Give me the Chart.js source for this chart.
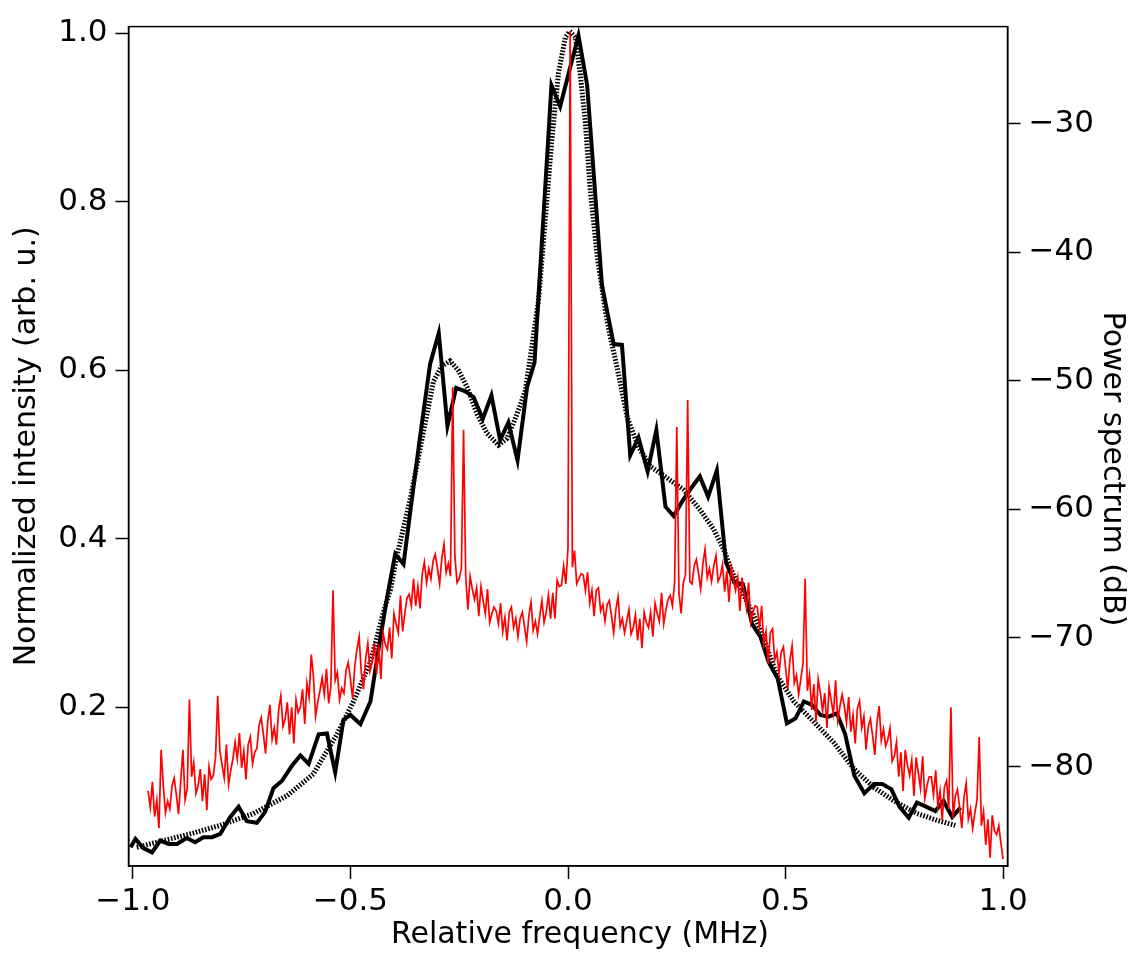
<!DOCTYPE html>
<html>
<head>
<meta charset="utf-8">
<script src="https://cdn.jsdelivr.net/npm/chart.js"></script>
<style>
  html, body { margin: 0; padding: 0; background: #fff; }
  #wrap { width: 1130px; height: 954px; }
</style>
</head>
<body>
<div id="wrap"><canvas id="myChart" width="1130" height="954"></canvas></div>
<script>
// tick labels
const xTicks = [-1.0, -0.5, 0.0, 0.5, 1.0];
const leftTicks = [0.2, 0.4, 0.6, 0.8, 1.0];
const rightTicks = [-80, -70, -60, -50, -40, -30];

// measured spectrum (normalized intensity), black solid
const solidX = [-1.005, -0.994, -0.976, -0.956, -0.937, -0.918, -0.899, -0.876, -0.857, -0.838,
    -0.818, -0.799, -0.776, -0.757, -0.738, -0.715, -0.696, -0.677, -0.657, -0.634,
    -0.615, -0.596, -0.573, -0.554, -0.535, -0.516, -0.500, -0.477, -0.454, -0.435,
    -0.416, -0.397, -0.378, -0.359, -0.340, -0.317, -0.297, -0.277, -0.257, -0.236,
    -0.217, -0.196, -0.176, -0.156, -0.137, -0.116, -0.094, -0.077, -0.038, -0.018,
    0.024, 0.044, 0.078, 0.105, 0.124, 0.143, 0.162, 0.183, 0.203, 0.224,
    0.243, 0.262, 0.283, 0.303, 0.322, 0.342, 0.363, 0.382, 0.402, 0.423,
    0.442, 0.461, 0.482, 0.503, 0.523, 0.542, 0.561, 0.580, 0.599, 0.618,
    0.637, 0.658, 0.681, 0.703, 0.722, 0.743, 0.762, 0.783, 0.802, 0.824,
    0.844, 0.863, 0.883, 0.902];
const solidY = [0.034, 0.044, 0.033, 0.028, 0.042, 0.038, 0.038, 0.045, 0.040, 0.046,
    0.046, 0.050, 0.070, 0.082, 0.065, 0.063, 0.076, 0.104, 0.113, 0.131,
    0.143, 0.133, 0.168, 0.169, 0.123, 0.185, 0.191, 0.180, 0.207, 0.270,
    0.330, 0.382, 0.370, 0.446, 0.521, 0.607, 0.644, 0.534, 0.579, 0.575,
    0.568, 0.542, 0.570, 0.517, 0.538, 0.493, 0.580, 0.609, 0.938, 0.913,
    0.997, 0.938, 0.701, 0.631, 0.630, 0.499, 0.520, 0.480, 0.529, 0.438,
    0.427, 0.444, 0.460, 0.474, 0.450, 0.481, 0.372, 0.348, 0.346, 0.299,
    0.284, 0.254, 0.234, 0.181, 0.187, 0.207, 0.203, 0.191, 0.189, 0.193,
    0.168, 0.119, 0.098, 0.109, 0.109, 0.103, 0.082, 0.069, 0.087, 0.082,
    0.077, 0.089, 0.070, 0.081];

// fit (normalized intensity), black dotted
const fitX = [-0.991, -0.914, -0.860, -0.799, -0.723, -0.646, -0.585, -0.531, -0.493, -0.454,
    -0.424, -0.408, -0.393, -0.363, -0.336, -0.309, -0.290, -0.271, -0.251, -0.232,
    -0.209, -0.186, -0.160, -0.140, -0.117, -0.098, -0.083, -0.068, -0.056, -0.037,
    -0.022, -0.006, 0.004, 0.017, 0.028, 0.040, 0.051, 0.067, 0.086, 0.097,
    0.113, 0.136, 0.162, 0.189, 0.228, 0.266, 0.304, 0.335, 0.358, 0.381,
    0.408, 0.442, 0.480, 0.519, 0.557, 0.611, 0.657, 0.703, 0.749, 0.802,
    0.848, 0.890];
const fitY = [0.034, 0.044, 0.051, 0.060, 0.074, 0.095, 0.121, 0.168, 0.207, 0.254,
    0.313, 0.340, 0.380, 0.446, 0.517, 0.587, 0.605, 0.611, 0.599, 0.580,
    0.548, 0.525, 0.511, 0.519, 0.548, 0.576, 0.628, 0.682, 0.756, 0.874,
    0.952, 0.995, 1.002, 0.995, 0.952, 0.893, 0.815, 0.736, 0.670, 0.640,
    0.603, 0.544, 0.509, 0.486, 0.472, 0.458, 0.434, 0.411, 0.387, 0.356,
    0.329, 0.293, 0.238, 0.207, 0.187, 0.158, 0.127, 0.105, 0.089, 0.074,
    0.066, 0.060];

// power spectrum (dB), red, sampled every 5 kHz from -0.965 MHz
const redStart = -0.965;
const redStep = 0.005;
const redDb = [
    -81.9, -83.2, -81.2, -83.9, -82.6, -84.8, -78.7, -81.5, -83.6, -82.7,
    -83.3, -81.5, -80.9, -82.2, -83.7, -81.2, -78.7, -82.6, -81.7, -74.8,
    -80.8, -79.7, -82.1, -81.5, -80.2, -82.7, -80.6, -83.4, -80.0, -81.0,
    -80.7, -79.3, -74.5, -78.8, -79.9, -80.9, -78.3, -81.4, -80.3, -79.4,
    -78.1, -79.4, -77.4, -80.1, -78.8, -81.0, -78.3, -77.7, -79.8, -78.9,
    -78.6, -76.8, -76.2, -77.5, -79.0, -76.5, -75.2, -77.9, -77.0, -78.3,
    -75.6, -74.5, -76.9, -76.3, -75.0, -77.5, -75.4, -78.2, -74.8, -75.8,
    -75.4, -74.0, -76.7, -73.5, -74.6, -71.3, -73.0, -76.1, -75.0, -74.1,
    -73.1, -74.4, -72.4, -75.1, -73.8, -66.3, -73.3, -72.7, -74.8, -73.9,
    -74.3, -72.5, -71.9, -73.2, -74.7, -72.2, -70.9, -69.9, -72.7, -74.0,
    -71.6, -70.4, -72.6, -71.9, -70.4, -72.8, -70.5, -73.2, -69.6, -70.5,
    -70.9, -69.2, -71.6, -68.1, -68.9, -69.6, -66.7, -69.5, -68.1, -66.9,
    -66.6, -67.5, -65.4, -67.5, -66.0, -67.7, -65.0, -64.1, -65.7, -64.6,
    -65.4, -64.0, -63.5, -64.6, -65.8, -63.8, -62.7, -64.9, -64.2, -65.2,
    -50.5, -63.6, -65.7, -65.4, -64.6, -53.8, -65.3, -67.8, -65.2, -66.2,
    -67.0, -66.1, -68.3, -66.0, -67.1, -68.1, -66.2, -68.8, -68.1, -67.6,
    -67.9, -68.9, -67.3, -69.5, -68.4, -70.2, -68.0, -67.6, -69.2, -68.5,
    -69.9, -68.5, -68.0, -69.1, -70.3, -68.3, -67.2, -69.4, -68.7, -69.7,
    -68.3, -67.1, -68.8, -68.0, -66.7, -68.5, -66.5, -68.5, -65.5, -66.0,
    -65.9, -64.4, -65.8, -63.0, -22.8, -64.5, -63.2, -65.8, -65.4, -65.0,
    -65.1, -66.3, -64.9, -67.3, -66.3, -68.3, -66.3, -66.1, -67.9, -67.4,
    -68.7, -67.4, -67.1, -68.3, -69.6, -67.8, -66.8, -69.1, -68.5, -69.6,
    -68.7, -67.8, -69.7, -69.2, -68.2, -70.2, -68.5, -70.8, -68.0, -68.8,
    -69.2, -68.0, -69.9, -67.3, -68.1, -68.7, -66.5, -68.9, -67.8, -67.0,
    -66.7, -67.5, -65.7, -53.6, -66.5, -68.1, -65.7, -65.1, -51.5, -65.6,
    -65.8, -64.4, -63.9, -65.0, -66.2, -64.2, -63.1, -65.3, -64.6, -65.6,
    -64.4, -63.6, -65.6, -65.2, -64.3, -66.4, -64.8, -67.2, -64.5, -65.4,
    -66.3, -65.3, -67.9, -65.3, -66.6, -67.7, -65.7, -68.8, -68.0, -67.5,
    -67.6, -69.2, -67.5, -70.5, -69.5, -72.0, -69.6, -69.3, -71.7, -71.1,
    -72.7, -71.1, -70.7, -72.3, -74.0, -71.7, -70.6, -73.5, -72.9, -74.4,
    -73.2, -72.0, -65.4, -74.1, -72.9, -75.6, -73.6, -76.5, -73.2, -74.3,
    -75.7, -74.3, -77.0, -73.8, -74.9, -75.9, -73.3, -76.4, -75.3, -74.4,
    -75.3, -76.6, -74.6, -77.3, -76.0, -78.2, -75.5, -74.9, -77.0, -76.1,
    -78.7, -76.9, -76.3, -77.6, -79.1, -76.6, -75.3, -78.0, -77.1, -78.4,
    -77.9, -77.0, -79.6, -79.2, -78.1, -80.8, -78.9, -81.9, -78.7, -79.9,
    -80.7, -79.5, -82.3, -79.3, -80.5, -81.7, -79.2, -82.5, -81.5, -80.8,
    -80.8, -82.2, -80.3, -83.1, -81.9, -84.2, -81.6, -81.1, -83.3, -75.4,
    -84.0, -82.3, -81.8, -83.2, -84.8, -82.4, -81.3, -84.1, -83.3, -84.8,
    -83.6, -82.6, -77.7, -84.6, -83.5, -86.1, -84.1, -87.1, -83.8, -85.0,
    -85.3, -84.6, -86.0, -87.2
];

const solidData = solidX.map((x, i) => ({ x: x, y: solidY[i] }));
const fitData = fitX.map((x, i) => ({ x: x, y: fitY[i] }));
const redData = redDb.map((v, i) => ({ x: redStart + i * redStep, y: v }));

const tickFont = { family: 'DejaVu Sans', size: 31 };
const titleFont = { family: 'DejaVu Sans', size: 30 };
const minus = v => String(v).replace('-', '\u2212');

// closes the plot box and writes the bottom and right axis titles
const frame = {
    id: 'frame',
    afterDraw(chart) {
        const a = chart.chartArea;
        const ctx = chart.ctx;
        ctx.save();
        ctx.strokeStyle = '#000';
        ctx.lineWidth = 1.5;
        ctx.strokeRect(a.left, a.top, a.right - a.left, a.bottom - a.top);
        ctx.font = '30px "DejaVu Sans"';
        ctx.fillStyle = '#000';
        ctx.textAlign = 'center';
        ctx.textBaseline = 'middle';
        ctx.fillText('Relative frequency (MHz)', 580, 935);
        ctx.translate(1112, 469);
        ctx.rotate(Math.PI / 2);
        ctx.fillText('Power spectrum (dB)', 0, 0);
        ctx.restore();
    }
};

const axisGrid = { drawOnChartArea: false, drawTicks: true, tickLength: 13, tickWidth: 1.5, tickColor: '#000' };
const axisBorder = { display: true, color: '#000', width: 1.5 };

new Chart(document.getElementById('myChart').getContext('2d'), {
    type: 'line',
    data: {
        datasets: [
            { label: 'Power spectrum', data: redData, yAxisID: 'yR', borderColor: '#ff0000', borderWidth: 1.7, pointRadius: 0, order: 0 },
            { label: 'Measured', data: solidData, yAxisID: 'y', borderColor: '#000', borderWidth: 4, pointRadius: 0, order: 1 },
            { label: 'Fit', data: fitData, yAxisID: 'y', borderColor: '#000', borderWidth: 5, borderDash: [1.6, 1.6], borderCapStyle: 'butt', pointRadius: 0, order: 2 }
        ]
    },
    options: {
        responsive: false,
        animation: false,
        layout: { padding: { top: 19, left: 0, right: 0, bottom: 0 } },
        plugins: { legend: { display: false }, tooltip: { enabled: false } },
        scales: {
            x: {
                type: 'linear',
                min: -1.01,
                max: 1.01,
                afterBuildTicks: s => { s.ticks = xTicks.map(v => ({ value: v })); },
                afterFit: s => { s.height = 88; },
                grid: axisGrid,
                border: axisBorder,
                ticks: { font: tickFont, color: '#000', padding: 4, maxRotation: 0, callback: v => minus(v.toFixed(1)) },
                title: { display: false }
            },
            y: {
                type: 'linear',
                position: 'left',
                min: 0.0118,
                max: 1.0076,
                afterBuildTicks: s => { s.ticks = leftTicks.map(v => ({ value: v })); },
                afterFit: s => { s.width = 128.5; },
                grid: axisGrid,
                border: axisBorder,
                ticks: { font: tickFont, color: '#000', padding: 8, callback: v => v.toFixed(1) },
                title: { display: true, text: 'Normalized intensity (arb. u.)', font: titleFont, color: '#000', padding: { top: 9, bottom: 0 } }
            },
            yR: {
                type: 'linear',
                position: 'right',
                min: -87.74,
                max: -22.45,
                afterBuildTicks: s => { s.ticks = rightTicks.map(v => ({ value: v })); },
                afterFit: s => { s.width = 122.5; },
                grid: axisGrid,
                border: axisBorder,
                ticks: { font: tickFont, color: '#000', padding: 8, callback: v => minus(v) },
                title: { display: false }
            }
        }
    },
    plugins: [frame]
});
</script>
</body>
</html>
